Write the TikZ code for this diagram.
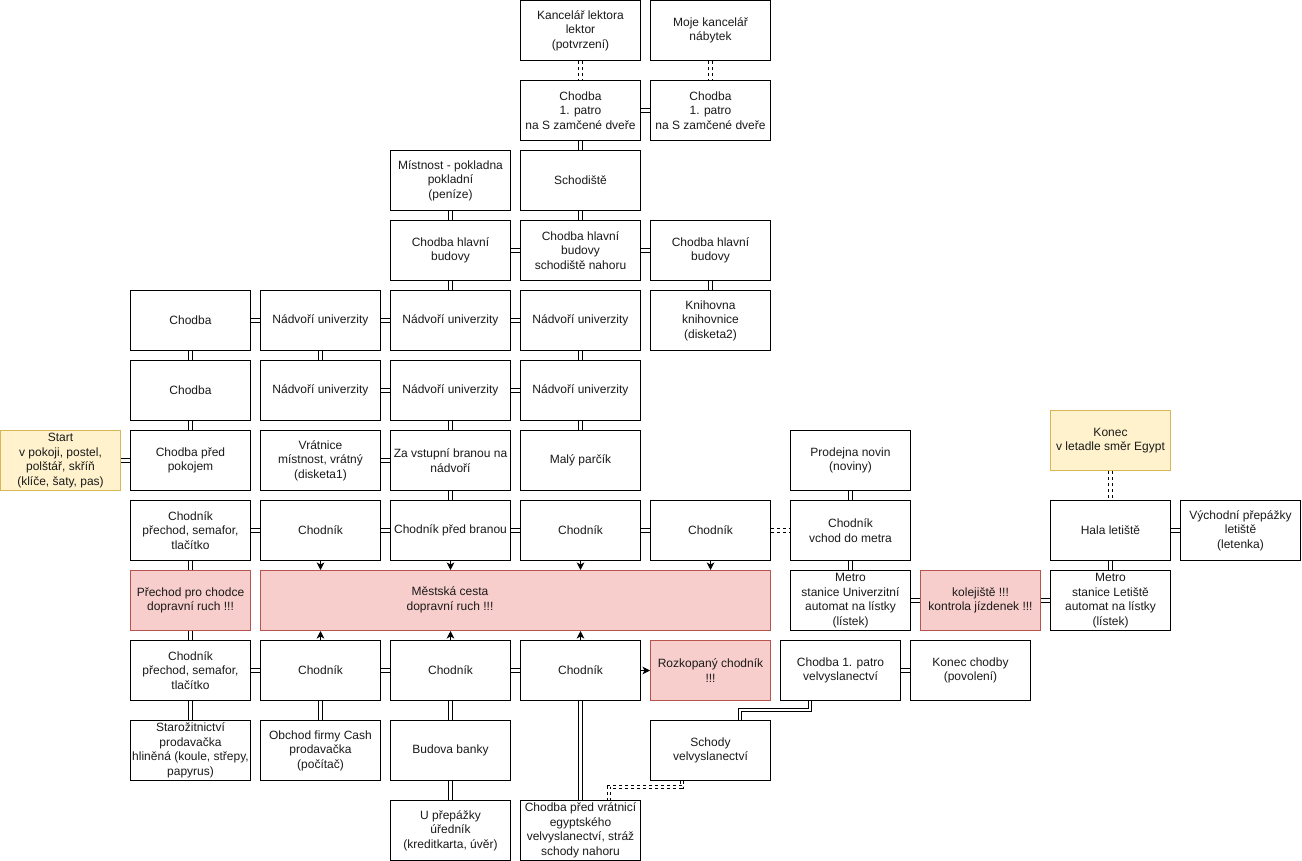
\documentclass[tikz,border=0pt]{standalone}
\usepackage{fontspec}
\setmainfont{Liberation Sans}
\usetikzlibrary{arrows.meta,calc}
\definecolor{redfill}{HTML}{F8CECC}
\definecolor{redline}{HTML}{B85450}
\definecolor{yelfill}{HTML}{FFF2CC}
\definecolor{yelline}{HTML}{D6B656}
\definecolor{txt}{HTML}{1A1A1A}
\begin{document}
\begin{tikzpicture}[x=1pt,y=-1pt,
  box/.style={draw=black, line width=1pt, fill=white, minimum width=120pt, minimum height=60pt,
    align=center, inner sep=0pt, anchor=north west, text=txt, font=\fontsize{12}{14.5}\selectfont},
  redbox/.style={box, draw=redline, fill=redfill},
  yelbox/.style={box, draw=yelline, fill=yelfill},
  dbl/.style={draw=black, line width=1pt, double=white, double distance=2.6pt},
  ddbl/.style={dbl, dash pattern=on 3pt off 3pt},
  arr/.style={draw=black, line width=1pt, -{Stealth[length=7.5pt,width=7.5pt,inset=2pt]}}]
\useasboundingbox (0,0) rectangle (1302,861);
% Row 0
\node[box] (kl) at (520,0) {Kancelář lektora\\lektor\\(potvrzení)};
\node[box] (mk) at (650,0) {Moje kancelář\\nábytek};
% Row 80
\node[box] (c1a) at (520,80) {Chodba\\1. patro\\na S zamčené dveře};
\node[box] (c1b) at (650,80) {Chodba\\1. patro\\na S zamčené dveře};
% Row 150
\node[box] (mp) at (390,150) {Místnost - pokladna\\pokladní\\(peníze)};
\node[box] (sch) at (520,150) {Schodiště};
% Row 220
\node[box] (hb1) at (390,220) {Chodba hlavní\\budovy};
\node[box] (hb2) at (520,220) {Chodba hlavní\\budovy\\schodiště nahoru};
\node[box] (hb3) at (650,220) {Chodba hlavní\\budovy};
% Row 290
\node[box] (ch1) at (130,290) {Chodba};
\node[box] (n1) at (260,290) {Nádvoří univerzity};
\node[box] (n2) at (390,290) {Nádvoří univerzity};
\node[box] (n3) at (520,290) {Nádvoří univerzity};
\node[box] (kn) at (650,290) {Knihovna\\knihovnice\\(disketa2)};
% Row 360
\node[box] (ch2) at (130,360) {Chodba};
\node[box] (n4) at (260,360) {Nádvoří univerzity};
\node[box] (n5) at (390,360) {Nádvoří univerzity};
\node[box] (n6) at (520,360) {Nádvoří univerzity};
% Row 430
\node[yelbox] (st) at (0,430) {Start\\v pokoji, postel,\\polštář, skříň\\(klíče, šaty, pas)};
\node[box] (cpp) at (130,430) {Chodba před\\pokojem};
\node[box] (vr) at (260,430) {Vrátnice\\místnost, vrátný\\(disketa1)};
\node[box] (zv) at (390,430) {Za vstupní branou na\\nádvoří};
\node[box] (mpc) at (520,430) {Malý parčík};
\node[box] (pn) at (790,430) {Prodejna novin\\(noviny)};
\node[yelbox] (kon) at (1050,410) {Konec\\v letadle směr Egypt};
% Row 500
\node[box] (cp1) at (130,500) {Chodník\\přechod, semafor,\\tlačítko};
\node[box] (ck1) at (260,500) {Chodník};
\node[box] (cpb) at (390,500) {Chodník před branou};
\node[box] (ck2) at (520,500) {Chodník};
\node[box] (ck3) at (650,500) {Chodník};
\node[box] (cvm) at (790,500) {Chodník\\vchod do metra};
\node[box] (hl) at (1050,500) {Hala letiště};
\node[box] (vp) at (1180,500) {Východní přepážky\\letiště\\(letenka)};
% Row 570
\node[redbox] (pch) at (130,570) {Přechod pro chodce\\dopravní ruch !!!};
\node[redbox, minimum width=510pt] (mc) at (260,570) {};
\node[align=center, inner sep=0pt, text=txt, font=\fontsize{12}{14.5}\selectfont] (mct) at (450,600) {Městská cesta\\dopravní ruch !!!};
\node[box] (mu) at (790,570) {Metro\\stanice Univerzitní\\automat na lístky\\(lístek)};
\node[redbox] (kj) at (920,570) {kolejiště !!!\\kontrola jízdenek !!!};
\node[box] (ml) at (1050,570) {Metro\\stanice Letiště\\automat na lístky\\(lístek)};
% Row 640
\node[box] (cp2) at (130,640) {Chodník\\přechod, semafor,\\tlačítko};
\node[box] (ck4) at (260,640) {Chodník};
\node[box] (ck5) at (390,640) {Chodník};
\node[box] (ck6) at (520,640) {Chodník};
\node[redbox] (rz) at (650,640) {Rozkopaný chodník\\!!!};
\node[box] (cv) at (780,640) {Chodba 1. patro\\velvyslanectví};
\node[box] (kc) at (910,640) {Konec chodby\\(povolení)};
% Row 720
\node[box] (sz) at (130,720) {Starožitnictví\\prodavačka\\hliněná (koule, střepy,\\papyrus)};
\node[box] (ob) at (260,720) {Obchod firmy Cash\\prodavačka\\(počítač)};
\node[box] (bb) at (390,720) {Budova banky};
\node[box] (sv) at (650,720) {Schody\\velvyslanectví};
% Row 800
\node[box] (up) at (390,800) {U přepážky\\úředník\\(kreditkarta, úvěr)};
\node[box] (cvr) at (520,800) {Chodba před vrátnicí\\egyptského\\velvyslanectví, stráž\\schody nahoru};

% dashed double connectors
\draw[ddbl] (kl) -- (c1a);
\draw[ddbl] (mk) -- (c1b);
\draw[ddbl] (ck3) -- (cvm);
\draw[ddbl] (kon) -- (hl);
\coordinate (d1) at (682,787);
\coordinate (d2) at (609,787);
\draw[ddbl] (sv.south -| d1) -- (d1) -- (d2) -- (cvr.north -| d2);

% double connectors
\foreach \a/\b in {c1a/c1b, c1a/sch, mp/hb1, sch/hb2, hb1/hb2, hb2/hb3, hb3/kn, hb1/n2,
  ch1/n1, n1/n2, n2/n3, ch1/ch2, n1/n4, n3/n6, n4/n5, n5/n6, ch2/cpp, n5/zv, n6/mpc,
  st/cpp, vr/zv, zv/cpb, cp1/ck1, ck1/cpb, cpb/ck2, ck2/ck3, cp1/pch, pch/cp2, cp2/sz,
  cp2/ck4, ck4/ck5, ck5/ck6, ck4/ob, ck5/bb, bb/up, ck6/cvr, pn/cvm, cvm/mu, mu/kj,
  kj/ml, ml/hl, hl/vp, cv/kc}
  \draw[dbl] (\a) -- (\b);
\coordinate (e1) at (810,710);
\coordinate (e2) at (740,710);
\draw[dbl] (cv.south -| e1) -- (e1) -- (e2) -- (sv.north -| e2);

% arrows into the road
\foreach \a in {ck1, cpb, ck2, ck3}
  \draw[arr] (\a.south) -- (\a.south |- mc.north);
\foreach \a in {ck4, ck5, ck6}
  \draw[arr] (\a.north) -- (\a.north |- mc.south);
\draw[arr] (ck6.east) -- (rz.west);
\end{tikzpicture}
\end{document}
